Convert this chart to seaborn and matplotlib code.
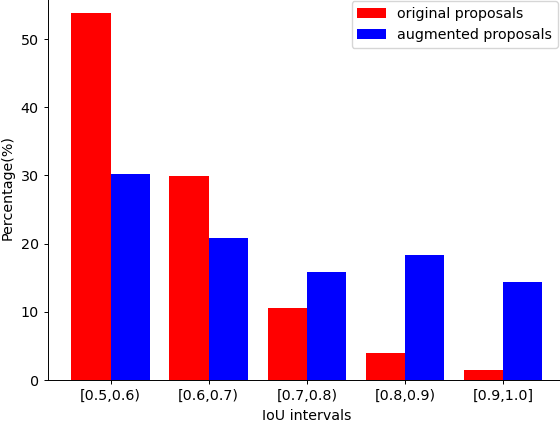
import pandas as pd
import seaborn as sns
import matplotlib.pyplot as plt

intervals = ['[0.5,0.6)', '[0.6,0.7)', '[0.7,0.8)', '[0.8,0.9)', '[0.9,1.0]']
original = [53.8, 29.9, 10.5, 4.0, 1.5]
augmented = [30.2, 20.8, 15.9, 18.4, 14.4]
series_names = ['original proposals', 'augmented proposals']
colors = ['#ff0000', '#0000ff']

df = pd.DataFrame({
    'interval': intervals * 2,
    'value': original + augmented,
    'series': [series_names[0]] * len(intervals) + [series_names[1]] * len(intervals),
})

plt.rcParams['font.size'] = 10.3

fig = plt.figure(figsize=(5.6, 4.22), dpi=100)
# the reference is cropped on the right and top, so the axes run past the figure edge
ax = fig.add_axes([0.0852, 0.0995, 0.9255, 0.913])

sns.barplot(data=df, x='interval', y='value', hue='series', palette=colors,
            saturation=1, width=0.8, ax=ax, legend=True)

ax.set_xlim(-0.64, 4.64)
ax.set_ylim(0, 56.5)
ax.set_yticks([0, 10, 20, 30, 40, 50])
ax.set_xlabel('IoU intervals')
ax.set_ylabel('Percentage(%)')
ax.tick_params(length=3, width=0.7)
for s in ax.spines.values():
    s.set_linewidth(0.7)

handles, labels = ax.get_legend_handles_labels()
ax.legend(handles, labels, loc='upper right', bbox_to_anchor=(558 / 560, 421 / 422),
          bbox_transform=fig.transFigure, borderaxespad=0, title=None)

fig.savefig('out.png', dpi=100)
